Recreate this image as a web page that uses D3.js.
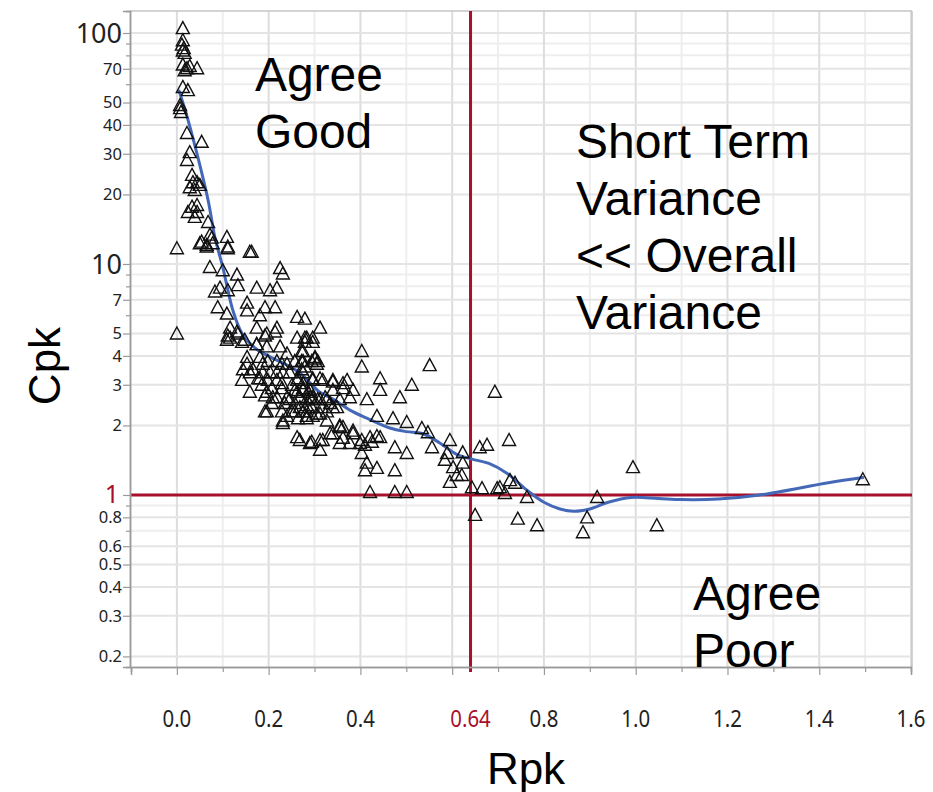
<!DOCTYPE html>
<html>
<head>
<meta charset="utf-8">
<script src="https://cdn.jsdelivr.net/npm/d3@7"></script>
<style>
  body { margin: 0; background: #fff; }
  svg { display: block; }
</style>
</head>
<body>
<svg id="chart" width="933" height="792"></svg>
<script>
// Each process: [Rpk, Cpk]
const processes = [
  [0.013,105],[0.013,93],[0.011,89],[0.015,86],[0.013,84],[0.017,82],[0.013,73],[0.022,70.4],
  [0.044,70.4],[0.017,69],[0.028,72],[0.013,58.4],[0.024,56.6],[0.007,48.8],[0.007,47.3],[0.009,45.5],
  [0.022,36.9],[0.054,33.8],[0.028,30.5],[0.022,28.2],[0.033,24.3],[0.035,22.6],[0.044,22.6],[0.028,21.5],
  [0.039,20.9],[0.050,22.0],[0.033,17.7],[0.044,18.0],[0.024,16.8],[0.044,16.8],[0.039,16.0],[0.068,15.2],
  [0.072,13.4],[0.109,13.1],[0.000,11.7],[0.050,12.3],[0.076,13.0],[0.111,11.7],[0.159,11.3],[0.065,12.1],
  [0.054,12.5],[0.078,12.3],[0.065,11.9],[0.111,11.9],[0.163,11.3],
  [0.072,9.7],[0.100,9.4],[0.131,9.0],[0.133,8.1],[0.094,7.9],[0.083,7.6],[0.111,7.7],[0.174,7.9],
  [0.225,9.6],[0.231,9.1],[0.203,7.7],[0.218,7.9],
  [0.000,5.0],
  [0.089,6.5],[0.109,6.1],[0.153,6.8],[0.153,6.3],[0.192,6.5],[0.214,6.5],[0.181,6.0],[0.116,5.3],
  [0.116,4.8],[0.131,5.1],[0.148,4.7],[0.174,5.3],[0.196,5.0],[0.218,5.3],[0.262,5.9],[0.262,4.8],
  [0.283,4.8],[0.312,5.3],
  [0.109,4.7],[0.142,4.6],[0.174,4.5],[0.196,4.4],[0.225,4.4],[0.240,4.1],[0.153,3.96],[0.181,3.96],
  [0.153,3.7],[0.187,3.7],[0.218,3.8],[0.240,3.7],[0.272,3.8],[0.272,3.5],[0.301,3.96],[0.305,3.7],
  [0.142,3.15],[0.159,3.4],[0.181,3.2],[0.203,3.4],[0.218,3.15],[0.231,3.4],[0.262,3.15],[0.275,2.9],
  [0.296,3.15],[0.318,3.15],[0.340,3.1],[0.362,3.05],
  [0.159,2.8],[0.196,2.8],[0.209,2.65],[0.240,2.65],[0.262,2.8],[0.290,2.65],[0.312,2.6],[0.334,2.5],
  [0.355,2.6],
  [0.196,2.3],[0.231,2.05],[0.257,2.3],[0.283,2.2],[0.305,2.25],[0.327,2.3],[0.349,2.4],[0.355,1.97],
  [0.262,1.78],[0.294,1.7],[0.318,1.73],[0.362,1.77],[0.340,1.85],
  [0.279,5.8],[0.296,4.8],[0.275,4.2],[0.301,3.9],[0.275,3.8],
  [0.403,4.2],[0.403,3.6],[0.443,3.2],[0.443,2.85],[0.551,3.65],[0.693,2.8],
  [0.340,3.15],[0.371,3.15],[0.384,2.85],[0.377,2.65],[0.414,2.6],[0.436,2.2],[0.486,2.65],[0.512,3.0],
  [0.471,2.15],[0.501,2.07],[0.534,1.95],[0.547,1.87],
  [0.275,2.85],[0.296,2.65],[0.327,2.6],[0.362,2.9],[0.268,2.4],[0.312,2.25],[0.296,2.2],
  [0.355,2.0],[0.384,1.85],[0.403,1.73],[0.421,1.78],[0.436,1.8],[0.399,1.68],[0.377,1.68],[0.290,1.68],
  [0.312,1.57],[0.334,1.85],[0.355,1.68],
  [0.403,1.52],[0.414,1.38],[0.410,1.28],[0.436,1.31],[0.475,1.61],[0.501,1.52],[0.556,1.61],[0.475,1.28],
  [0.421,1.03],[0.475,1.03],[0.501,1.03],
  [0.595,1.73],[0.589,1.52],[0.584,1.42],[0.623,1.53],[0.623,1.38],[0.602,1.32],[0.610,1.22],[0.595,1.14],
  [0.643,1.08],[0.665,1.07],[0.660,1.61],[0.676,1.65],[0.650,0.82],[0.698,1.07],
  [0.724,1.73],[0.621,1.22],[0.704,1.08],[0.726,1.16],[0.737,1.13],[0.715,1.02],[0.763,0.98],[0.743,0.79],
  [0.785,0.74],[0.916,0.98],[0.894,0.80],[0.885,0.69],[0.994,1.32],[1.046,0.74],[1.495,1.17],
  [0.362,1.97],[0.384,1.9],[0.425,1.7],[0.410,1.65],[0.443,1.78],[0.312,1.73],[0.268,1.73],[0.283,2.3],
  [0.327,2.1],[0.316,2.4],[0.340,2.4],[0.283,2.6],[0.290,2.85],[0.307,2.6],[0.340,2.85],[0.307,3.8],
  [0.279,4.6],[0.296,4.6],[0.275,3.4],[0.296,3.2],[0.312,3.2],[0.323,2.65],
  [0.111,4.9],[0.133,5.0],[0.192,4.9],[0.214,5.1],[0.279,4.8],[0.174,4.5],[0.272,4.2],[0.198,3.8],
  [0.229,3.7],[0.257,3.8],[0.279,3.6],[0.294,3.8],[0.144,3.5],[0.166,3.5],[0.187,3.4],[0.218,3.4],
  [0.246,3.4],[0.264,3.2],[0.177,3.2],[0.198,3.15],[0.229,3.05],[0.251,3.0],[0.275,3.05],[0.185,3.0],
  [0.207,2.9],[0.229,2.9],[0.257,2.85],[0.286,2.8],[0.192,2.7],[0.218,2.65],[0.246,2.6],[0.268,2.65],
  [0.294,2.6],[0.207,2.5],[0.235,2.5],[0.257,2.5],[0.283,2.45],[0.229,2.3],[0.251,2.3],[0.275,2.3],
  [0.294,2.4],[0.240,2.2],[0.264,2.15],[0.192,2.3],[0.231,2.1],[0.283,2.15]
];

// Smoothing spline fit: [Rpk, Cpk]
const smoother = [
  [0.005,56],[0.02,45],[0.039,32.7],[0.068,18.9],[0.083,13.0],[0.10,9.7],[0.122,6.3],[0.142,5.0],
  [0.17,4.33],[0.203,3.96],[0.24,3.65],[0.27,3.35],[0.31,2.8],[0.34,2.6],[0.377,2.33],[0.414,2.15],
  [0.464,1.95],[0.50,1.88],[0.536,1.84],[0.573,1.68],[0.61,1.5],[0.643,1.43],[0.68,1.37],[0.72,1.24],
  [0.76,1.06],[0.80,0.93],[0.835,0.87],[0.865,0.85],[0.90,0.87],[0.94,0.93],[0.99,0.975],[1.05,0.965],
  [1.10,0.955],[1.18,0.96],[1.27,1.0],[1.42,1.13],[1.495,1.19]
];

// Reference limits
const rpkLimit = 0.64;
const cpkLimit = 1;

// Axis ticks
const xMajor = [0, 0.2, 0.4, 0.6, 0.8, 1.0, 1.2, 1.4, 1.6];
const xMinor = [-0.1, 0.1, 0.3, 0.5, 0.7, 0.9, 1.1, 1.3, 1.5];
const xLabelValues = [0, 0.2, 0.4, 0.64, 0.8, 1.0, 1.2, 1.4, 1.6];
const xLabelTexts = ["0.0", "0.2", "0.4", "0.64", "0.8", "1.0", "1.2", "1.4", "1.6"];
const yLabelValues = [100, 70, 50, 40, 30, 20, 10, 7, 5, 4, 3, 2, 1, 0.8, 0.6, 0.5, 0.4, 0.3, 0.2];
const yMinor = [90, 80, 60, 9, 8, 6, 0.9, 0.7];
const yBigLabels = [100, 10];

// Quadrant annotations (anchored at the first line's baseline)
const notes = [
  { lines: ["Agree", "Good"], x: 0.17, y: 56 },
  { lines: ["Short Term", "Variance", "<< Overall", "Variance"], x: 0.87, y: 28.8 },
  { lines: ["Agree", "Poor"], x: 1.125, y: 0.318 }
];

const RED = "#a80f2b";
const BLUE = "#4468b8";

const svg = d3.select("#chart");
const plotLeft = 131, plotRight = 911, plotTop = 11, plotBottom = 667;

const x = d3.scaleLinear().domain([-0.1, 1.6]).range([plotLeft, plotRight]);
const y = d3.scaleLog().domain([0.18, 124.5]).range([plotBottom, plotTop]);

const labelFont = "'Noto Sans', 'DejaVu Sans', sans-serif";
const bigFont = "'Liberation Sans', Arial, sans-serif";

// Grid
const grid = svg.append("g");
grid.append("g").selectAll("line").data(xMinor.filter(v => v > -0.1)).join("line")
  .attr("x1", d => x(d)).attr("x2", d => x(d)).attr("y1", plotTop).attr("y2", plotBottom)
  .attr("stroke", "#eeeeee").attr("stroke-width", 2);
grid.append("g").selectAll("line").data(yMinor).join("line")
  .attr("x1", plotLeft).attr("x2", plotRight).attr("y1", d => y(d)).attr("y2", d => y(d))
  .attr("stroke", "#eeeeee").attr("stroke-width", 2);
grid.append("g").selectAll("line").data(xMajor).join("line")
  .attr("x1", d => x(d)).attr("x2", d => x(d)).attr("y1", plotTop).attr("y2", plotBottom)
  .attr("stroke", "#dddddd").attr("stroke-width", 2);
grid.append("g").selectAll("line").data(yLabelValues.filter(v => v !== cpkLimit)).join("line")
  .attr("x1", plotLeft).attr("x2", plotRight).attr("y1", d => y(d)).attr("y2", d => y(d))
  .attr("stroke", "#e4e4e4").attr("stroke-width", 2);

// Frame
svg.append("line").attr("x1", plotLeft - 1).attr("x2", plotRight + 1).attr("y1", plotTop).attr("y2", plotTop)
  .attr("stroke", "#c6c6c6").attr("stroke-width", 1.5);
svg.append("line").attr("x1", plotRight + 1).attr("x2", plotRight + 1).attr("y1", plotTop).attr("y2", plotBottom)
  .attr("stroke", "#c6c6c6").attr("stroke-width", 1.5);

// Reference lines
svg.append("line").attr("x1", plotLeft).attr("x2", plotRight + 1)
  .attr("y1", y(cpkLimit)).attr("y2", y(cpkLimit))
  .attr("stroke", RED).attr("stroke-width", 3);
svg.append("line").attr("x1", x(rpkLimit)).attr("x2", x(rpkLimit))
  .attr("y1", plotTop).attr("y2", plotBottom + 5)
  .attr("stroke", RED).attr("stroke-width", 3);

// Axes
const xAxisG = svg.append("g").attr("transform", `translate(0,${plotBottom})`);
xAxisG.call(d3.axisBottom(x).tickValues(xMajor).tickSize(8).tickFormat(""));
xAxisG.append("g").call(d3.axisBottom(x).tickValues(xMinor).tickSize(5).tickFormat(""));
xAxisG.selectAll("path.domain").attr("stroke", "#9a9a9a").attr("stroke-width", 1.5);
xAxisG.selectAll(".tick line").attr("stroke", "#9a9a9a").attr("stroke-width", 1.2);

svg.append("g").selectAll("text").data(xLabelValues).join("text")
  .attr("transform", d => `translate(${x(d)},727) scale(0.85,1)`)
  .attr("text-anchor", "middle")
  .attr("font-family", labelFont).attr("font-size", 24)
  .attr("fill", d => d === rpkLimit ? RED : "#222")
  .text((d, i) => xLabelTexts[i]);

const yAxisG = svg.append("g").attr("transform", `translate(${plotLeft - 1},0)`);
yAxisG.call(d3.axisLeft(y).tickValues(yLabelValues).tickSize(7).tickFormat(""));
yAxisG.append("g").call(d3.axisLeft(y).tickValues(yMinor).tickSize(4).tickFormat(""));
yAxisG.selectAll("path.domain").attr("stroke", "#9a9a9a").attr("stroke-width", 1.5);
yAxisG.selectAll(".tick line").attr("stroke", "#9a9a9a").attr("stroke-width", 1.2);

svg.append("g").selectAll("text").data(yLabelValues).join("text")
  .attr("x", d => d === cpkLimit ? 119 : 122)
  .attr("y", d => y(d))
  .attr("dy", d => d === cpkLimit ? "0.33em" : "0.36em")
  .attr("text-anchor", "end")
  .attr("font-family", labelFont)
  .attr("font-size", d => d === cpkLimit ? 25 : (yBigLabels.includes(d) ? 27 : 16.5))
  .attr("fill", d => d === cpkLimit ? RED : "#222")
  .text(d => String(d));

// Smoothing curve
const line = d3.line().x(d => x(d[0])).y(d => y(d[1])).curve(d3.curveCatmullRom.alpha(0.5));
svg.append("path").datum(smoother)
  .attr("d", line)
  .attr("fill", "none").attr("stroke", BLUE).attr("stroke-width", 3)
  .attr("stroke-linejoin", "round").attr("stroke-linecap", "round");

// Process markers: open triangles
svg.append("g").selectAll("path").data(processes).join("path")
  .attr("d", d => {
    const cx = x(d[0]), cy = y(d[1]);
    return `M${cx},${cy - 6.5}L${cx + 6.5},${cy + 5.5}L${cx - 6.5},${cy + 5.5}Z`;
  })
  .attr("fill", "none").attr("stroke", "#111").attr("stroke-width", 1.4)
  .attr("stroke-linejoin", "miter");

// Quadrant annotations
notes.forEach(n => {
  const t = svg.append("text")
    .attr("font-family", bigFont).attr("font-size", 48).attr("fill", "#000");
  n.lines.forEach((s, i) => {
    t.append("tspan").attr("x", x(n.x)).attr("y", y(n.y) + i * 57).text(s);
  });
});

// Axis titles
svg.append("text")
  .attr("transform", "translate(60,366) rotate(-90)")
  .attr("text-anchor", "middle")
  .attr("font-family", bigFont).attr("font-size", 44).attr("fill", "#000")
  .text("Cpk");
svg.append("text")
  .attr("x", 526).attr("y", 784)
  .attr("text-anchor", "middle")
  .attr("font-family", bigFont).attr("font-size", 44).attr("fill", "#000")
  .text("Rpk");
</script>
</body>
</html>
